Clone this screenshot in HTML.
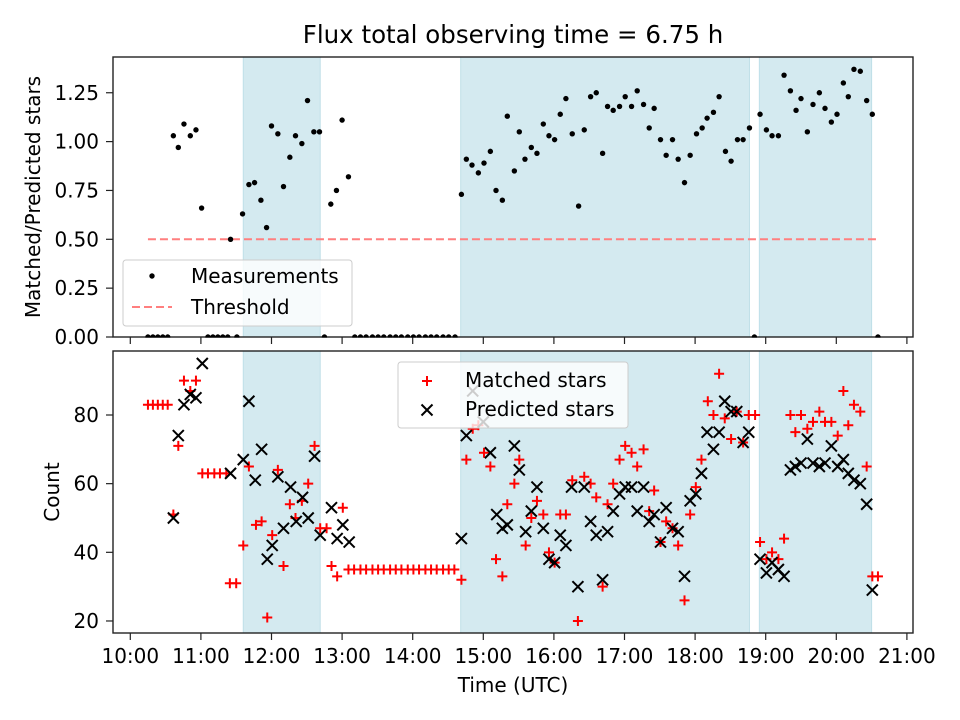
<!DOCTYPE html>
<html><head><meta charset="utf-8"><style>
html,body{margin:0;padding:0;background:#fff;}
svg{display:block;font-family:"DejaVu Sans","Liberation Sans",sans-serif;}
</style></head><body>
<svg id="fig" width="960" height="720" viewBox="0 0 960 720" xmlns="http://www.w3.org/2000/svg">
<text x="513" y="43" font-size="24.5" text-anchor="middle" fill="#000">Flux total observing time = 6.75 h</text>
<g id="top"></g>
<g id="bot"></g>
<text transform="translate(40,197) rotate(-90)" font-size="20" text-anchor="middle">Matched/Predicted stars</text>
<text transform="translate(59,492) rotate(-90)" font-size="20" text-anchor="middle">Count</text>
<text x="513" y="692" font-size="20" text-anchor="middle">Time (UTC)</text>
</svg>
<script>
const shadeStarts=[11.60,14.68,18.91];
const shadeEnds=[12.69,18.77,20.50];
const xTickHours=[10,11,12,13,14,15,16,17,18,19,20,21];
const xTickLabels=["10:00","11:00","12:00","13:00","14:00","15:00","16:00","17:00","18:00","19:00","20:00","21:00"];
const ratioTicks=[0,0.25,0.5,0.75,1.0,1.25];
const countTicks=[20,40,60,80];
const threshold=0.5;
const thresholdStart=10.25, thresholdEnd=20.59;
const ratioTimes=[10.25,10.32,10.39,10.46,10.53,10.61,10.68,10.76,10.85,10.93,11.01,11.10,11.17,11.24,11.31,11.38,11.42,11.51,11.59,11.68,11.76,11.85,11.93,12.00,12.09,12.17,12.26,12.34,12.43,12.51,12.60,12.68,12.75,12.84,12.92,13.00,13.09,
13.18,13.26,13.34,13.43,13.51,13.59,13.68,13.76,13.84,13.93,14.01,14.09,14.18,14.26,14.34,14.43,14.51,14.60,
14.69,14.76,14.84,14.93,15.01,15.10,15.18,15.27,15.34,15.44,15.51,15.59,15.68,15.76,15.85,15.93,16.01,16.09,16.17,16.26,16.35,16.43,16.52,16.60,16.69,16.76,16.84,16.93,17.01,17.10,17.18,17.27,17.35,17.42,17.51,17.59,17.68,17.76,17.85,17.93,18.02,18.10,18.17,18.26,18.34,18.43,18.51,18.60,18.68,18.77,18.84,18.92,19.01,19.09,19.18,19.26,19.35,19.43,19.50,19.59,19.67,19.76,19.84,19.93,20.01,20.10,20.17,20.25,20.34,20.43,20.51,20.59];
const ratioValues=[0,0,0,0,0,1.03,0.97,1.09,1.03,1.06,0.66,0,0,0,0,0,0.50,0,0.63,0.78,0.79,0.70,0.56,1.08,1.04,0.77,0.92,1.03,0.99,1.21,1.05,1.05,0,0.68,0.75,1.11,0.82,
0,0,0,0,0,0,0,0,0,0,0,0,0,0,0,0,0,0,
0.73,0.91,0.88,0.84,0.89,0.95,0.75,0.70,1.13,0.85,1.05,0.91,0.97,0.94,1.09,1.03,1.01,1.14,1.22,1.04,0.67,1.06,1.23,1.25,0.94,1.18,1.16,1.18,1.23,1.18,1.26,1.19,1.07,1.17,1.01,0.93,1.01,0.91,0.79,0.93,1.04,1.07,1.12,1.15,1.23,0.95,0.90,1.01,1.01,1.07,0,1.14,1.06,1.03,1.03,1.34,1.26,1.16,1.22,1.05,1.19,1.25,1.17,1.10,1.14,1.30,1.23,1.37,1.36,1.21,1.14,0];
const matchedTimes=[10.25,10.32,10.39,10.46,10.53,10.61,10.68,10.76,10.85,10.93,11.02,11.10,11.19,11.27,11.36,11.41,11.50,11.60,11.68,11.78,11.86,11.94,12.01,12.09,12.17,12.26,12.34,12.43,12.52,12.61,12.69,12.78,12.85,12.93,13.01,
13.09,13.17,13.26,13.34,13.43,13.51,13.59,13.68,13.76,13.84,13.93,14.01,14.09,14.18,14.26,14.34,14.43,14.51,14.59,
14.69,14.76,14.85,14.93,15.01,15.10,15.18,15.27,15.34,15.44,15.51,15.60,15.68,15.76,15.85,15.93,16.01,16.09,16.17,16.26,16.34,16.43,16.52,16.60,16.69,16.76,16.84,16.93,17.01,17.10,17.18,17.27,17.35,17.42,17.51,17.59,17.68,17.76,17.85,17.93,18.01,18.09,18.18,18.26,18.34,18.42,18.51,18.59,18.68,18.76,18.85,18.92,19.01,19.09,19.18,19.26,19.35,19.42,19.50,19.59,19.67,19.76,19.84,19.93,20.02,20.10,20.17,20.25,20.34,20.43,20.51,20.59];
const matchedCounts=[83,83,83,83,83,51,71,90,87,90,63,63,63,63,63,31,31,42,65,48,49,21,45,64,36,54,50,55,60,71,47,47,36,33,53,
35,35,35,35,35,35,35,35,35,35,35,35,35,35,35,35,35,35,35,
32,67,76,77,69,65,38,33,54,60,67,42,50,55,51,40,37,51,51,61,20,62,60,56,30,54,60,67,71,69,65,70,52,58,43,49,47,42,26,51,59,67,84,80,92,79,73,81,72,80,80,43,38,40,38,44,80,75,80,76,78,81,78,78,74,87,77,83,81,65,33,33];
const predictedTimes=[10.61,10.68,10.76,10.85,10.93,11.02,11.42,11.60,11.68,11.77,11.86,11.94,12.01,12.09,12.17,12.27,12.35,12.44,12.52,12.61,12.69,12.85,12.93,13.01,13.10,14.69,14.76,14.85,15.00,15.10,15.19,15.27,15.34,15.44,15.51,15.60,15.68,15.76,15.85,15.93,16.01,16.09,16.17,16.25,16.34,16.43,16.52,16.60,16.69,16.76,16.84,16.93,17.01,17.10,17.18,17.27,17.35,17.42,17.51,17.59,17.68,17.76,17.85,17.93,18.01,18.09,18.17,18.26,18.34,18.42,18.51,18.59,18.68,18.76,18.92,19.01,19.09,19.18,19.26,19.35,19.42,19.50,19.59,19.67,19.76,19.84,19.93,20.02,20.10,20.17,20.25,20.34,20.43,20.51];
const predictedCounts=[50,74,83,86,85,95,63,67,84,61,70,38,42,62,47,59,49,56,50,68,45,53,44,48,43,44,74,87,78,69,51,47,48,71,64,46,52,59,47,38,37,45,42,59,30,59,49,45,32,46,52,57,59,59,52,59,49,51,43,53,47,46,33,55,57,63,75,70,75,84,81,81,72,75,38,34,37,35,33,64,65,66,73,66,65,66,71,65,67,63,61,60,54,29];

const NS="http://www.w3.org/2000/svg";
const L=113,R=913;
const TOP={t:57,b:337}, BOT={t:351,b:633};
function xs(h){return 130.3+(h-10)*70.6;}
function yTop(v){return 337-v*195.4;}
function yBot(c){return 415+(80-c)*3.433;}
function mk(tag,attrs,parent){const e=document.createElementNS(NS,tag);for(const k in attrs)e.setAttribute(k,attrs[k]);parent.appendChild(e);return e;}

function panel(g,P,yfun,ticks,fmt,prefix){
  for(let i=0;i<shadeStarts.length;i++){
    const r=mk('rect',{x:xs(shadeStarts[i]),y:P.t,width:xs(shadeEnds[i])-xs(shadeStarts[i]),height:P.b-P.t,fill:'#d4eaf0',stroke:'#bfdfe8','stroke-width':1},g);
    
    
  }
  mk('rect',{x:L,y:P.t,width:R-L,height:P.b-P.t,fill:'none',stroke:'#222','stroke-width':1.4},g);
  ticks.forEach(v=>{
    const y=yfun(v);
    mk('line',{x1:L-7,x2:L,y1:y,y2:y,stroke:'#222','stroke-width':1.2},g);
    const t=mk('text',{x:L-14,y:y+7,'font-size':20,'text-anchor':'end'},g);
    t.textContent=fmt(v);
    
    
  });
  xTickHours.forEach(h=>{mk('line',{x1:xs(h),x2:xs(h),y1:P.b,y2:P.b+7,stroke:'#222','stroke-width':1.2},g);});
}
const gt=document.getElementById('top'), gb=document.getElementById('bot');
panel(gt,TOP,yTop,ratioTicks,v=>v.toFixed(2),'ratio');
panel(gb,BOT,yBot,countTicks,v=>String(v),'count');
xTickHours.forEach((h,i)=>{
  const t=mk('text',{x:xs(h),y:663,'font-size':20,'text-anchor':'middle'},gb);
  t.textContent=xTickLabels[i];
  
  
});
const th=mk('line',{x1:xs(thresholdStart),x2:xs(thresholdEnd),y1:yTop(threshold),y2:yTop(threshold),stroke:'#ff7f7f','stroke-width':2,'stroke-dasharray':'8 4'},gt);


const clipTop=mk('clipPath',{id:'ct'},gt);mk('rect',{x:L,y:TOP.t,width:R-L,height:TOP.b-TOP.t+0.6},clipTop);
const mg=mk('g',{'clip-path':'url(#ct)'},gt);
ratioTimes.forEach((h,i)=>{
  const c=mk('circle',{cx:xs(h),cy:yTop(ratioValues[i]),r:2.7,fill:'#000'},mg);
  
  
});
matchedTimes.forEach((h,i)=>{
  const x=xs(h),y=yBot(matchedCounts[i]);
  const p=mk('path',{d:`M${x-5},${y}H${x+5}M${x},${y-5}V${y+5}`,stroke:'#ff0000','stroke-width':2,fill:'none'},gb);
  
  
});
predictedTimes.forEach((h,i)=>{
  const x=xs(h),y=yBot(predictedCounts[i]);
  const p=mk('path',{d:`M${x-5.5},${y-5.5}L${x+5.5},${y+5.5}M${x-5.5},${y+5.5}L${x+5.5},${y-5.5}`,stroke:'#000','stroke-width':2,fill:'none'},gb);
  
  
});
const lt=mk('g',{},gt);


mk('rect',{x:123,y:260,width:229,height:66,rx:3,fill:'#fff','fill-opacity':0.8,stroke:'#ccc'},lt);
mk('circle',{cx:152,cy:276,r:2.7,fill:'#000'},lt);
mk('line',{x1:132,x2:172,y1:307,y2:307,stroke:'#ff7f7f','stroke-width':2,'stroke-dasharray':'8 4'},lt);
let t1=mk('text',{x:191,y:283,'font-size':20},lt);t1.textContent='Measurements';


let t2=mk('text',{x:191,y:314,'font-size':20},lt);t2.textContent='Threshold';


const lb=mk('g',{},gb);


mk('rect',{x:398,y:362,width:230,height:66,rx:3,fill:'#fff','fill-opacity':0.8,stroke:'#ccc'},lb);
mk('path',{d:'M422,381H432M427,376V386',stroke:'#ff0000','stroke-width':2},lb);
mk('path',{d:'M421.5,404.5L432.5,415.5M421.5,415.5L432.5,404.5',stroke:'#000','stroke-width':2},lb);
let t3=mk('text',{x:465,y:387,'font-size':20},lb);t3.textContent='Matched stars';


let t4=mk('text',{x:465,y:416,'font-size':20},lb);t4.textContent='Predicted stars';


</script>
</body></html>
